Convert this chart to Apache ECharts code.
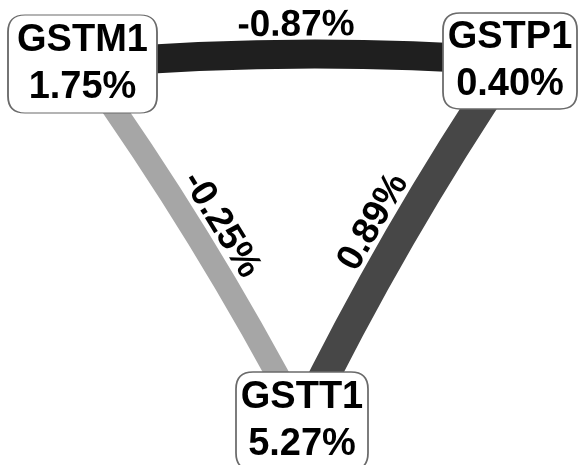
<!DOCTYPE html>
<html>
<head>
<meta charset="utf-8">
<script src="https://cdn.jsdelivr.net/npm/echarts@6/dist/echarts.min.js"></script>
<style>
  html, body { margin: 0; padding: 0; background: #fff; }
  #chart { width: 581px; height: 465px; }
</style>
</head>
<body>
<div id="chart"></div>
<script>
// ---- data ----
const nodeNames = ['GSTM1', 'GSTP1', 'GSTT1'];
const nodeValues = [1.75, 0.40, 5.27];
const linkSources = ['GSTM1', 'GSTM1', 'GSTT1'];
const linkTargets = ['GSTP1', 'GSTT1', 'GSTP1'];
const linkValues = [-0.87, -0.25, 0.89];

// ---- layout (node placement in a 581 x 465 layout space) ----
const nodeLayout = [[82.5, 64], [510, 61], [302, 421]];
const nodeBoxes = [[149, 98], [134, 96], [132, 98]];

// ---- styles ----
const linkColors = ['#1f1f1f', '#a6a6a6', '#474747'];
const linkWidths = [29, 23, 31];
const linkCurveness = [0.04, 0.035, 0.035];
const linkLabelDistance = [10, 8, 12];
const FONT = '"Liberation Sans", Arial, Helvetica, sans-serif';

function roundRectPath(w, h, r) {
  return 'path://M' + r + ',0 H' + (w - r) + ' Q' + w + ',0 ' + w + ',' + r +
    ' V' + (h - r) + ' Q' + w + ',' + h + ' ' + (w - r) + ',' + h +
    ' H' + r + ' Q0,' + h + ' 0,' + (h - r) + ' V' + r + ' Q0,0 ' + r + ',0 Z';
}
const fmtPct = v => v.toFixed(2) + '%';

const nodes = nodeNames.map((name, i) => ({
  name: name,
  value: nodeLayout[i],
  pct: nodeValues[i],
  symbol: roundRectPath(nodeBoxes[i][0], nodeBoxes[i][1], 17),
  symbolSize: nodeBoxes[i],
  symbolKeepAspect: false
}));

const links = linkValues.map((v, i) => ({
  source: linkSources[i],
  target: linkTargets[i],
  value: v,
  lineStyle: { color: linkColors[i], width: linkWidths[i], curveness: linkCurveness[i], opacity: 1 },
  label: { distance: linkLabelDistance[i] }
}));

const chart = echarts.init(document.getElementById('chart'), null, { renderer: 'canvas' });
chart.setOption({
  backgroundColor: '#fff',
  animation: false,
  grid: { left: 0, right: 0, top: 0, bottom: 0 },
  xAxis: { type: 'value', min: 0, max: 581, show: false },
  yAxis: { type: 'value', min: 0, max: 465, inverse: true, show: false },
  series: [{
    type: 'graph',
    coordinateSystem: 'cartesian2d',
    layout: 'none',
    data: nodes,
    links: links,
    itemStyle: { color: '#fff', borderColor: '#6a6a6a', borderWidth: 1.5 },
    label: {
      show: true,
      position: 'inside',
      fontFamily: FONT,
      fontWeight: 'bold',
      fontSize: 38,
      lineHeight: 47,
      color: '#000',
      formatter: p => p.name + '\n' + fmtPct(p.data.pct)
    },
    edgeLabel: {
      show: true,
      position: 'middle',
      fontFamily: FONT,
      fontWeight: 'bold',
      fontSize: 37,
      color: '#000',
      formatter: p => fmtPct(p.data.value)
    },
    emphasis: { disabled: true }
  }]
});
</script>
</body>
</html>
